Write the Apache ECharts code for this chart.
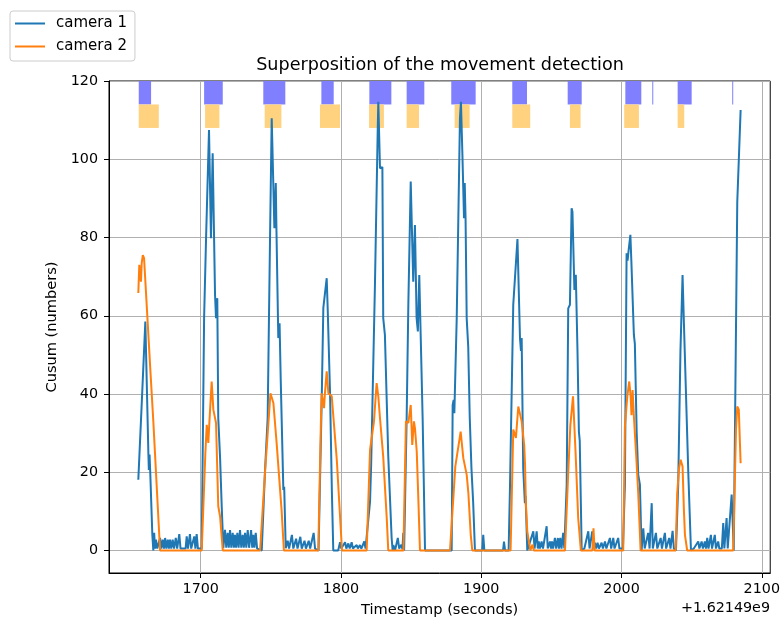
<!DOCTYPE html>
<html><head><meta charset="utf-8">
<script src="https://cdn.jsdelivr.net/npm/echarts@6/dist/echarts.min.js"></script>
<style>html,body{margin:0;padding:0;background:#fff}#c{width:783px;height:624px}</style>
</head><body><div id="c"></div>
<script>
// x values are seconds relative to the offset 1.62149e9
const xTicks = [1700, 1800, 1900, 2000, 2100];
const yTicks = [0, 20, 40, 60, 80, 100, 120];
const xOffsetLabel = '+1.62149e9';

const camera1 = [
[1655.5,18.1],[1658.0,38.1],[1658.8,38.5],[1660.5,58.5],[1661.0,50.9],[1662.7,24.5],[1663.0,20.6],[1663.5,24.5],[1664.0,20.0],[1665.5,4.0],[1666.2,0],
[1666.8,4.5],[1667.4,0.5],[1668.1,2.8],[1669.0,0.5],[1671.0,3.2],[1671.9,0.5],[1672.9,2.8],[1673.8,0.5],[1674.6,3.2],[1675.5,0.5],[1676.5,2.8],[1677.3,0.5],[1678.1,2.8],[1679.0,0.5],[1680.0,2.8],[1681.0,0.5],[1682.2,3.2],[1683.2,0.5],[1684.7,4.2],[1685.6,0.5],[1689.2,0.5],[1690.0,3.6],[1690.9,0.5],[1692.3,4.2],[1693.2,0.5],[1694.5,0.5],[1695.4,3.6],[1696.2,0.5],[1697.1,4.2],[1698.0,0.5],[1700.7,0.5],
[1702.4,59.4],[1703.8,79.8],[1705.9,107.5],[1707.3,79.8],[1708.5,101.5],[1710.2,65.3],[1710.9,59.4],[1711.8,64.5],[1712.5,33.8],[1713.8,23.6],[1714.3,23.4],[1715.0,10.9],[1716.1,0.6],
[1717.3,5.3],[1718.2,0.7],[1719.2,4.5],[1720.0,0.7],[1720.9,5.2],[1721.8,0.7],[1722.8,4.5],[1723.6,0.7],[1724.4,4.0],[1725.2,0.7],[1726.1,4.5],[1727.0,0.7],[1728.0,5.2],[1728.9,0.7],[1729.9,4.0],[1730.7,0.7],[1731.6,4.5],[1732.5,0.7],[1733.5,5.2],[1734.5,0.7],[1735.9,5.2],[1736.7,0.7],[1737.5,4.0],[1738.3,0.7],[1739.2,4.5],[1740.2,0.5],[1743.5,0],
[1745.8,20.2],[1747.7,33.8],[1749.4,79.8],[1750.6,110.5],[1752.5,82.4],[1753.5,93.9],[1754.0,81.5],[1755.3,54.3],[1756.2,58.1],[1757.0,44.0],[1758.9,15.5],[1759.5,16.3],[1760.6,0.6],
[1762.0,2.5],[1763.0,0.5],[1765.0,4.0],[1766.0,0.5],[1768.0,3.0],[1769.0,0.5],[1771.0,3.5],[1772.0,0.5],[1774.0,2.5],[1775.0,0.5],[1777.0,2.5],[1778.0,0.5],[1780.5,4.5],[1781.5,0.5],[1784.0,0],
[1786.2,37.7],[1787.4,62.0],[1789.8,69.6],[1790.5,62.0],[1792.2,40.0],[1793.5,15.0],[1794.5,0],[1798.0,0],
[1799.3,2.1],[1800.2,0.5],[1802.9,2.1],[1803.8,0.5],[1805.2,1.8],[1806.2,0.5],[1807.6,2.1],[1808.5,0.5],[1811.2,1.4],[1812.0,0.5],[1813.5,1.4],[1814.5,0.5],[1816.6,2.3],[1817.5,0.5],[1818.3,0.5],
[1820.7,12.5],[1821.5,22.0],[1824.2,67.9],[1826.2,107.9],[1826.6,114.7],[1827.8,97.7],[1829.5,98.0],[1830.1,59.4],[1831.3,55.1],[1833.7,24.0],[1834.9,23.6],[1836.1,3.2],[1836.8,0],
[1837.3,1.4],[1838.5,0],[1840.5,3.2],[1841.5,0.5],[1843.0,1.5],[1843.8,0.3],[1844.4,4.5],[1845.0,0],
[1846.8,33.8],[1848.0,62.8],[1849.7,94.3],[1851.5,68.7],[1852.7,83.2],[1853.9,59.4],[1854.8,56.0],[1855.8,70.4],[1856.8,55.1],[1858.2,33.8],[1859.9,0],[1878.9,0],
[1879.6,37.2],[1880.3,38.5],[1880.8,35.1],[1882.5,59.4],[1884.8,110.5],[1885.5,114.7],[1886.5,101.9],[1887.7,84.9],[1888.2,93.9],[1888.8,85.0],[1889.6,59.4],[1890.7,52.1],[1891.8,33.8],[1893.0,21.0],[1894.2,12.5],[1895.5,0],
[1900.7,0],[1901.4,4.0],[1902.2,0],[1915.5,0],[1916.2,2.3],[1917.0,0],[1919.5,0],
[1920.5,16.8],[1922.8,62.8],[1925.8,79.6],[1927.6,54.3],[1928.3,51.0],[1928.8,54.3],[1929.9,21.0],[1931.1,12.1],[1931.6,14.0],[1932.8,0],
[1934.0,0.5],[1937.1,4.9],[1938.0,0.5],[1939.5,4.9],[1940.3,0.5],[1941.0,2.3],[1941.8,0.5],[1943.0,2.3],[1944.0,0.5],[1946.6,6.2],[1947.4,0.5],[1949.0,2.3],[1949.7,0.5],[1950.4,2.3],[1951.2,0.5],[1952.5,3.2],[1953.4,0.5],[1954.6,3.2],[1955.4,0.5],[1956.3,3.2],[1957.2,0.5],[1958.4,4.5],[1959.2,0.5],[1959.7,0],
[1960.9,16.8],[1962.0,61.9],[1963.2,62.8],[1964.4,87.5],[1965.0,86.6],[1966.4,66.6],[1967.4,70.5],[1968.6,51.0],[1969.6,30.4],[1970.2,28.0],[1971.6,0],
[1973.5,0.5],[1976.3,4.9],[1977.2,0.5],[1979.1,4.9],[1980.0,0.5],[1981.0,2.0],[1981.9,0.5],[1982.9,2.0],[1983.9,0.5],[1985.8,2.0],[1986.7,0.5],[1988.2,2.3],[1989.2,0.5],[1991.7,3.2],[1992.6,0.5],[1994.1,3.2],[1995.0,0.5],[1997.6,3.2],[1998.5,0.5],[2001.0,0.5],
[2002.4,16.8],[2003.6,76.0],[2004.3,74.1],[2005.0,76.6],[2006.3,80.7],[2007.0,74.0],[2008.8,55.1],[2009.5,52.8],[2010.8,30.0],[2011.9,19.4],[2013.1,16.8],[2014.3,0],
[2015.5,5.7],[2016.5,0.5],[2019.0,4.5],[2020.0,0.5],[2021.5,12.1],[2022.3,0.5],[2024.5,4.5],[2025.5,0.5],[2027.9,3.2],[2028.8,0.5],[2030.9,4.5],[2031.8,0.5],[2034.0,3.2],[2034.9,0.5],[2036.4,5.0],[2037.3,0.5],[2038.8,0],
[2040.4,16.8],[2042.0,51.0],[2043.5,70.4],[2044.5,57.7],[2045.9,58.0],[2047.6,19.8],[2048.3,19.4],[2049.5,0],
[2051.5,0.5],[2054.7,2.3],[2055.5,0.5],[2057.1,2.3],[2058.0,0.5],[2059.4,2.3],[2060.2,0.5],[2061.1,3.2],[2062.0,0.5],[2063.7,4.0],[2064.5,0.5],[2066.5,4.0],[2067.3,0.5],[2068.9,2.3],[2069.7,0.5],[2070.8,1.0],[2071.5,0.5],[2072.5,7.0],[2073.3,0.5],[2074.9,8.3],[2075.7,0.5],[2078.5,14.3],[2080.0,0],
[2080.8,0],[2082.5,89.0],[2084.9,112.6]
];

const camera2 = [
[1655.5,65.8],[1656.2,73.0],[1657.4,68.7],[1657.9,73.4],[1658.7,75.5],[1659.6,74.7],[1664.0,46.6],[1666.2,33.0],[1671.0,0],[1700.7,0],
[1703.3,25.0],[1704.3,32.1],[1705.4,27.5],[1706.2,33.0],[1707.8,43.2],[1709.0,36.0],[1710.9,32.6],[1712.5,11.3],[1713.8,8.7],[1715.7,0],[1742.3,0],
[1745.8,19.8],[1747.0,20.2],[1749.7,40.2],[1750.6,40.0],[1751.8,37.7],[1754.1,27.5],[1757.7,10.0],[1759.3,0],[1783.8,0],
[1785.8,35.0],[1786.2,40.2],[1787.9,36.4],[1788.5,40.0],[1789.8,45.8],[1791.0,40.2],[1793.4,39.4],[1797.0,23.2],[1800.7,0],[1818.3,0],
[1820.7,25.7],[1821.5,26.0],[1823.5,33.0],[1825.4,42.8],[1826.6,39.4],[1827.8,33.8],[1830.1,24.0],[1832.6,8.3],[1833.7,0],[1844.5,0],
[1846.3,33.0],[1848.0,32.6],[1849.7,37.2],[1850.8,27.0],[1852.0,33.0],[1852.8,31.0],[1854.0,25.3],[1855.2,12.5],[1856.3,0],[1877.7,0],
[1881.5,21.5],[1882.5,22.0],[1885.3,30.4],[1887.2,23.6],[1889.6,19.4],[1890.8,14.7],[1892.5,4.0],[1893.6,0],[1920.9,0],
[1922.8,30.9],[1923.6,31.3],[1924.7,28.8],[1926.4,36.8],[1927.6,37.2],[1928.8,33.0],[1930.6,27.0],[1931.2,22.0],[1931.8,12.0],[1932.8,4.9],[1935.0,0],[1936.5,1.5],[1937.5,0],[1959.7,0],
[1962.0,20.0],[1963.5,32.0],[1965.4,39.4],[1967.2,25.3],[1969.1,8.3],[1971.0,0],[1979.2,0],[1980.0,5.7],[1980.8,0],[2001.2,0],
[2002.4,31.7],[2004.1,39.4],[2005.5,43.2],[2006.5,39.4],[2007.1,34.6],[2007.9,41.0],[2008.8,34.3],[2010.5,24.0],[2011.9,14.7],[2013.6,0],[2038.6,0],
[2039.7,14.7],[2041.0,21.0],[2042.1,23.2],[2043.5,21.5],[2044.5,10.0],[2045.2,4.0],[2046.8,0],[2079.6,0],
[2081.6,30.9],[2082.5,36.8],[2083.6,36.0],[2084.9,22.3]
];

// detection intervals [start, end]
const camera1Spans = [[1655.8,1664.6],[1702.4,1715.7],[1744.6,1760.3],[1786.0,1794.8],[1820.2,1835.9],[1846.8,1859.4],[1878.6,1896.0],[1922.1,1932.6],[1961.6,1971.6],[2002.7,2014.1],[2021.9,2022.1],[2040.0,2050.0],[2078.9,2079.1]];
const camera2Spans = [[1655.8,1670.1],[1703.1,1713.3],[1745.6,1757.5],[1785.0,1799.3],[1820.0,1830.6],[1846.8,1855.6],[1881.0,1891.7],[1922.1,1934.9],[1963.2,1970.8],[2001.9,2012.4],[2040.0,2044.7]];

const FONT = 'DejaVu Sans';
const chart = echarts.init(document.getElementById('c'), null, {renderer: 'canvas'});

function spanSeries(name, spans, band, color) {
  return {
    type: 'custom', name: name, data: spans, encode: {x: [0, 1]}, clip: true, silent: true, z: 1,
    renderItem: function (params, api) {
      const a = api.coord([api.value(0), band[1]]);
      const b = api.coord([api.value(1), band[0]]);
      return {type: 'rect', shape: {x: a[0], y: a[1], width: Math.max(b[0] - a[0], 1), height: b[1] - a[1]}, style: {fill: color}};
    }
  };
}

const legendIcon = 'path://M0,0H30V2H0Z';

chart.setOption({
  animation: false,
  backgroundColor: '#fff',
  textStyle: {fontFamily: FONT},
  grid: {left: 109, right: 12, top: 81, bottom: 51, show: true, borderColor: '#000', borderWidth: 1, backgroundColor: 'transparent'},
  legend: {
    data: [{name: 'camera 1', icon: legendIcon}, {name: 'camera 2', icon: legendIcon}],
    orient: 'vertical', left: 10, top: 11, itemWidth: 30, itemHeight: 14, itemGap: 8,
    padding: [5, 8, 7, 5], borderColor: '#cccccc', borderWidth: 1, borderRadius: 3,
    backgroundColor: 'rgba(255,255,255,0.8)',
    textStyle: {fontFamily: FONT, fontSize: 15, color: '#000', padding: [0, 0, 0, 6]}
  },
  graphic: [
    {type: 'text', x: 440, y: 65, style: {text: 'Superposition of the movement detection', font: '17.6px "DejaVu Sans"', fill: '#000', align: 'center', verticalAlign: 'middle'}},
    {type: 'text', x: 770, y: 608, style: {text: xOffsetLabel, font: '14.3px "DejaVu Sans"', fill: '#000', align: 'right', verticalAlign: 'middle'}}
  ],
  xAxis: {
    type: 'value', min: 1634.6, max: 2106.0,
    name: 'Timestamp (seconds)', nameLocation: 'middle', nameGap: 30,
    nameTextStyle: {fontFamily: FONT, fontSize: 14.6, color: '#000'},
    axisLine: {show: true, onZero: false, lineStyle: {color: '#000', width: 1}},
    axisTick: {show: true, inside: false, length: 5, customValues: xTicks, lineStyle: {color: '#000', width: 1}},
    axisLabel: {customValues: xTicks, margin: 9, fontFamily: FONT, fontSize: 14.3, color: '#000', formatter: function (v) { return String(v); }},
    splitLine: {show: true, lineStyle: {color: '#b0b0b0', width: 1}}
  },
  yAxis: {
    type: 'value', min: -5.75, max: 120,
    name: 'Cusum (numbers)', nameLocation: 'middle', nameGap: 41,
    nameTextStyle: {fontFamily: FONT, fontSize: 14.6, color: '#000'},
    axisLine: {show: true, onZero: false, lineStyle: {color: '#000', width: 1}},
    axisTick: {show: true, inside: false, length: 5, customValues: yTicks, lineStyle: {color: '#000', width: 1}},
    axisLabel: {customValues: yTicks, margin: 11, fontFamily: FONT, fontSize: 14.3, color: '#000', formatter: function (v) { return String(v); }},
    splitLine: {show: true, lineStyle: {color: '#b0b0b0', width: 1}}
  },
  series: [
    spanSeries('camera 1 detection', camera1Spans, [114, 120], '#8080ff'),
    spanSeries('camera 2 detection', camera2Spans, [108, 114], '#ffd280'),
    {name: 'camera 1', type: 'line', data: camera1, showSymbol: false, symbol: 'none', z: 3,
     lineStyle: {color: '#1f77b4', width: 2}, itemStyle: {color: '#1f77b4'}},
    {name: 'camera 2', type: 'line', data: camera2, showSymbol: false, symbol: 'none', z: 4,
     lineStyle: {color: '#ff7f0e', width: 2}, itemStyle: {color: '#ff7f0e'}}
  ]
});
</script>
</body></html>
